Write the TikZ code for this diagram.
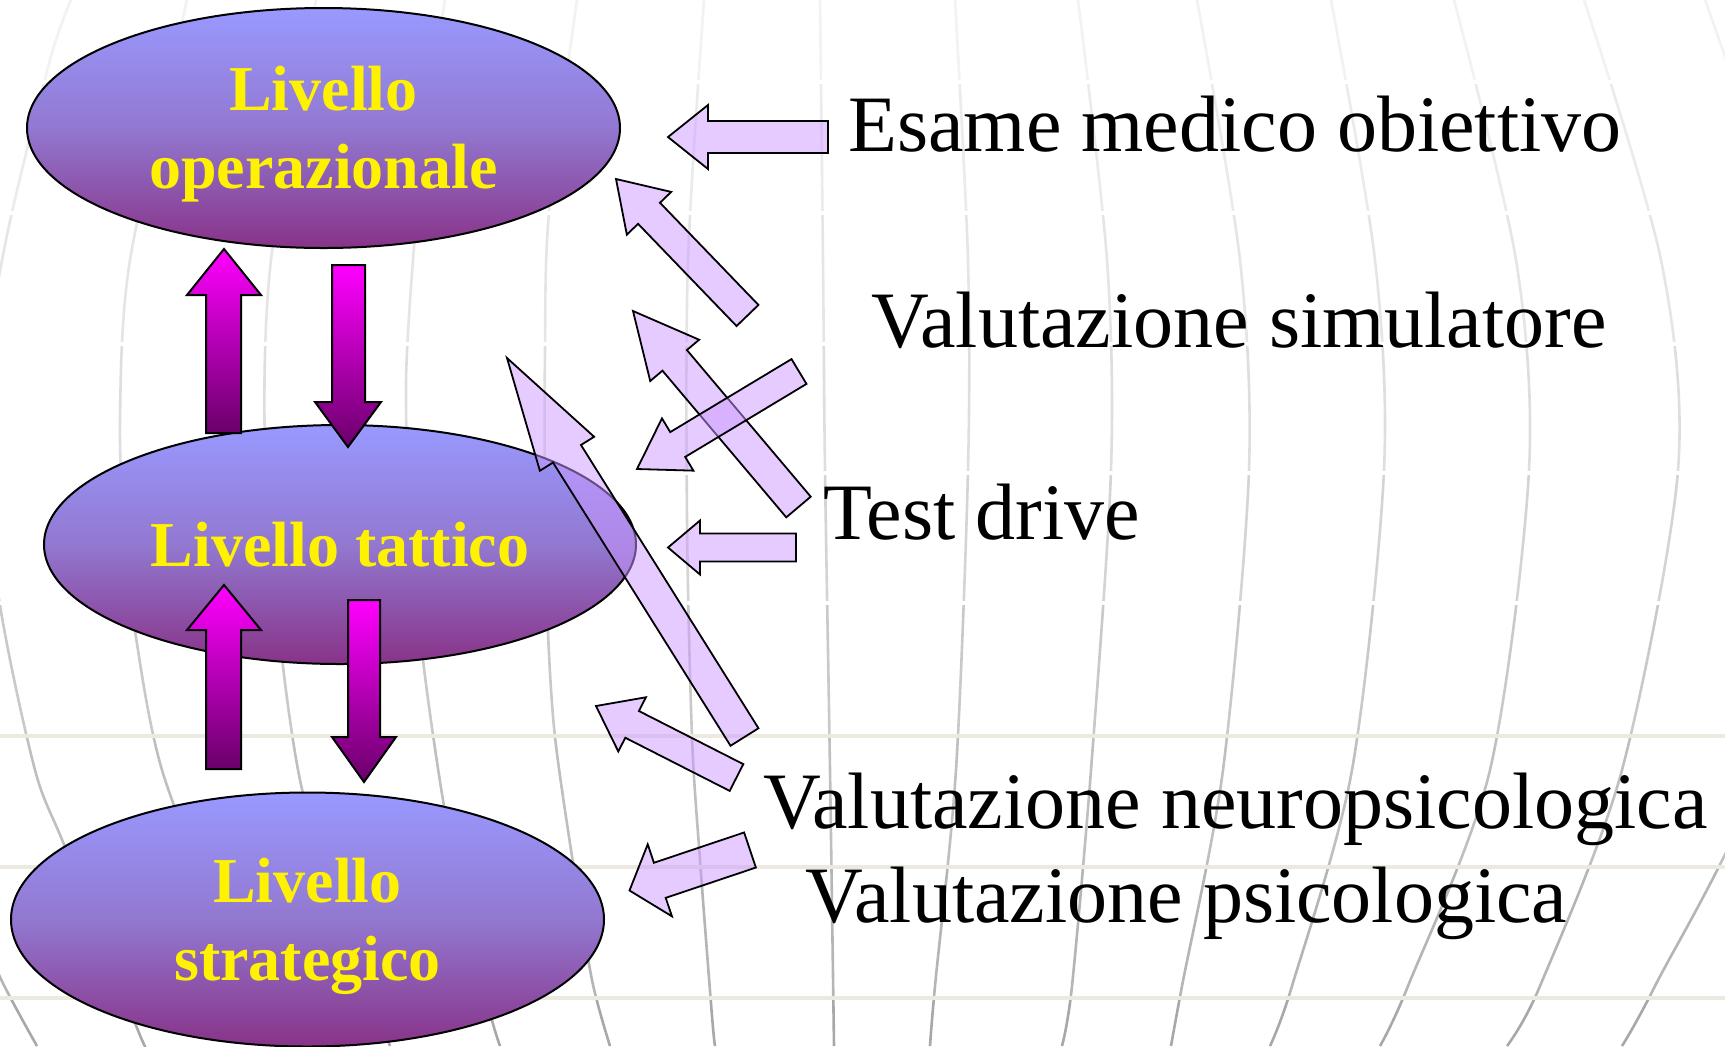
\documentclass[tikz,border=0pt]{standalone}
\usepackage{fontspec}
\setmainfont{Liberation Serif}
\usetikzlibrary{shapes.geometric,calc}
\definecolor{elltop}{HTML}{9999FF}
\definecolor{ellmid}{HTML}{9278D0}
\definecolor{ellbot}{HTML}{883388}
\definecolor{dkmag}{HTML}{6A006A}
\definecolor{lav}{HTML}{CC99FF}
\definecolor{beige}{HTML}{ECE9E0}
\pgfdeclareverticalshading{ellsh}{100bp}{color(0bp)=(ellbot); color(25bp)=(ellbot); color(50bp)=(ellmid); color(75bp)=(elltop); color(100bp)=(elltop)}

\newcommand\meridians{%
 plot[smooth] coordinates {(820,0) (823,260) (825,470) (830,770) (834,1046)}
 plot[smooth] coordinates {(955,0) (968,260) (968,470) (956,770) (935,986) (930,1046)}
 plot[smooth] coordinates {(1078,0) (1107,260) (1111,470) (1091,770) (1072,986) (1062,1046)}
 plot[smooth] coordinates {(1197,0) (1240,260) (1249,470) (1223,770) (1182,986) (1171,1046)}
 plot[smooth] coordinates {(1331,0) (1375,260) (1384,470) (1352,770) (1292,986) (1270,1046)}
 plot[smooth] coordinates {(1454,0) (1516,260) (1529,470) (1490,770) (1408,986) (1380,1046)}
 plot[smooth] coordinates {(1584,0) (1661,260) (1678,470) (1622,770) (1540,986) (1507,1046)}
 plot[smooth] coordinates {(1705,0) (1790,260) (1810,470) (1760,770) (1655,986) (1622,1046)}
 plot[smooth] coordinates {(704,0) (688,260) (687,520) (692,737) (700,860) (712,1016) (715,1046)}
 plot[smooth] coordinates {(577,0) (549,213) (545,350) (545,500) (548,632) (555,737) (573,863) (592,980) (610,1046)}
 plot[smooth] coordinates {(445,0) (425,130) (413,260) (406,383) (410,520) (423,660) (443,800) (465,910) (490,1013) (500,1046)}
 plot[smooth] coordinates {(316,0) (271,260) (265,450) (280,640) (300,780) (330,880) (390,1046)}
 plot[smooth] coordinates {(187,0) (130,260) (120,420) (125,540) (135,631) (162,770) (230,950) (265,1046)}
 plot[smooth] coordinates {(71,0) (50,60) (5,245) (-20,420) (0,605) (35,770) (65,847) (135,1023) (145,1046)}
 plot[smooth] coordinates {(-30,900) (0,977) (37,1046)}}

\newcommand\blockarr[5]{%
  \coordinate (hb) at ($(#1)!#5!(#2)$);
  \draw[litarr] (#1) -- ($(hb)!#4!90:(#1)$) -- ($(hb)!#3!90:(#1)$) -- ($(#2)!#3!90:(#1)$)
    -- ($(#2)!#3!-90:(#1)$) -- ($(hb)!#3!-90:(#1)$) -- ($(hb)!#4!-90:(#1)$) -- cycle;}

\begin{document}
\begin{tikzpicture}[x=0.5pt,y=-0.5pt,
  ell/.style={ellipse, draw=black, line width=1pt, shade, shading=ellsh, inner sep=0pt},
  ytxt/.style={text=yellow, font=\fontsize{32}{38}\selectfont\bfseries, anchor=base, inner sep=0pt},
  btxt/.style={text=black, font=\fontsize{40}{48}\selectfont, anchor=base west, inner sep=0pt},
  magarr/.style={draw=black, line width=1pt, top color=magenta, bottom color=dkmag, line join=miter},
  litarr/.style={draw=black, line width=0.9pt, fill=lav, fill opacity=0.5, line join=miter},
  meridian/.style={line width=1.3pt},
  hline/.style={line width=2pt}]

\fill[white] (0,0) rectangle (1725,1046);
\useasboundingbox (0,0) rectangle (1725,1046);

% background globe lines
\begin{scope}
\clip (0,0) rectangle (1725,1046);
\foreach \ya/\yb/\g in {0/82/5, 82/213/8, 213/344/10, 344/473/13, 473/603/17, 603/736/21, 736/867/25, 867/998/29, 998/1046/34}{
  \begin{scope}
  \clip (-10,\ya) rectangle (1735,\yb);
  \draw[meridian, black!\g] \meridians;
  \end{scope}
}
\foreach \y in {82,213,344,473,603}{\draw[hline, white] (0,\y) -- (1725,\y);}
\foreach \y in {736,867,998}{\draw[hline, beige] (0,\y) -- (1725,\y);}
\end{scope}

% ellipses
\node[ell, minimum width=296.5pt, minimum height=120pt] (op) at (323.5,128) {};
\node[ell, minimum width=296pt, minimum height=119.5pt] (tat) at (340,544.5) {};
\node[ell, minimum width=296.5pt, minimum height=127pt] (str) at (307.5,919.5) {};

% magenta arrows
\draw[magarr] (224,249) -- (261,295) -- (241,295) -- (241,433) -- (206,433) -- (206,295) -- (187,295) -- cycle;
\draw[magarr] (332,265) -- (365,265) -- (365,402) -- (381,402) -- (348,447) -- (315,402) -- (332,402) -- cycle;
\draw[magarr] (224,585) -- (261,630) -- (241,630) -- (241,769) -- (206,769) -- (206,630) -- (187,630) -- cycle;
\draw[magarr] (348,600) -- (380,600) -- (380,737) -- (396,737) -- (364,782) -- (332,737) -- (348,737) -- cycle;

% light arrows
\coordinate (tA) at (668,137);   \coordinate (sA) at (828,137);
\coordinate (tB) at (616,179);   \coordinate (sB) at (747.5,315.5);
\coordinate (tC) at (637,469);   \coordinate (sC) at (799,371.5);
\coordinate (tD) at (633,311);   \coordinate (sD) at (798.5,507);
\coordinate (tE) at (668,547.5); \coordinate (sE) at (796,547.5);
\coordinate (tF) at (507,358);   \coordinate (sF) at (744.5,737);
\coordinate (tG) at (596,706);   \coordinate (sG) at (736.5,777.5);
\coordinate (tH) at (629.5,890.5); \coordinate (sH) at (750,850);
\blockarr{tA}{sA}{8pt}{16pt}{20pt}
\blockarr{tB}{sB}{7.6pt}{15.4pt}{23.8pt}
\blockarr{tD}{sD}{8pt}{16pt}{32.3pt}
\blockarr{tC}{sC}{7.25pt}{15.25pt}{23.75pt}
\blockarr{tE}{sE}{7pt}{13.5pt}{16pt}
\blockarr{tF}{sF}{8.25pt}{16pt}{56.5pt}
\blockarr{tG}{sG}{7.5pt}{15.2pt}{20.25pt}
\blockarr{tH}{sH}{9.25pt}{19pt}{16pt}

% yellow labels
\node[ytxt] (opA) at (323.5,110) {Livello};
\node[ytxt] (opB) at (323.5,188) {operazionale};
\node[ytxt] (tatA) at (340,566) {Livello tattico};
\node[ytxt] (strA) at (307.5,902) {Livello};
\node[ytxt] (strB) at (307.5,980) {strategico};

% black labels
\node[btxt] (esame) at (848,151) {Esame medico obiettivo};
\node[btxt] (simul) at (871,347) {Valutazione simulatore};
\node[btxt] (test) at (823,539) {Test drive};
\node[btxt] (neuro) at (763,828) {Valutazione neuropsicologica};
\node[btxt] (psico) at (805,922) {Valutazione psicologica};
\end{tikzpicture}
\end{document}
